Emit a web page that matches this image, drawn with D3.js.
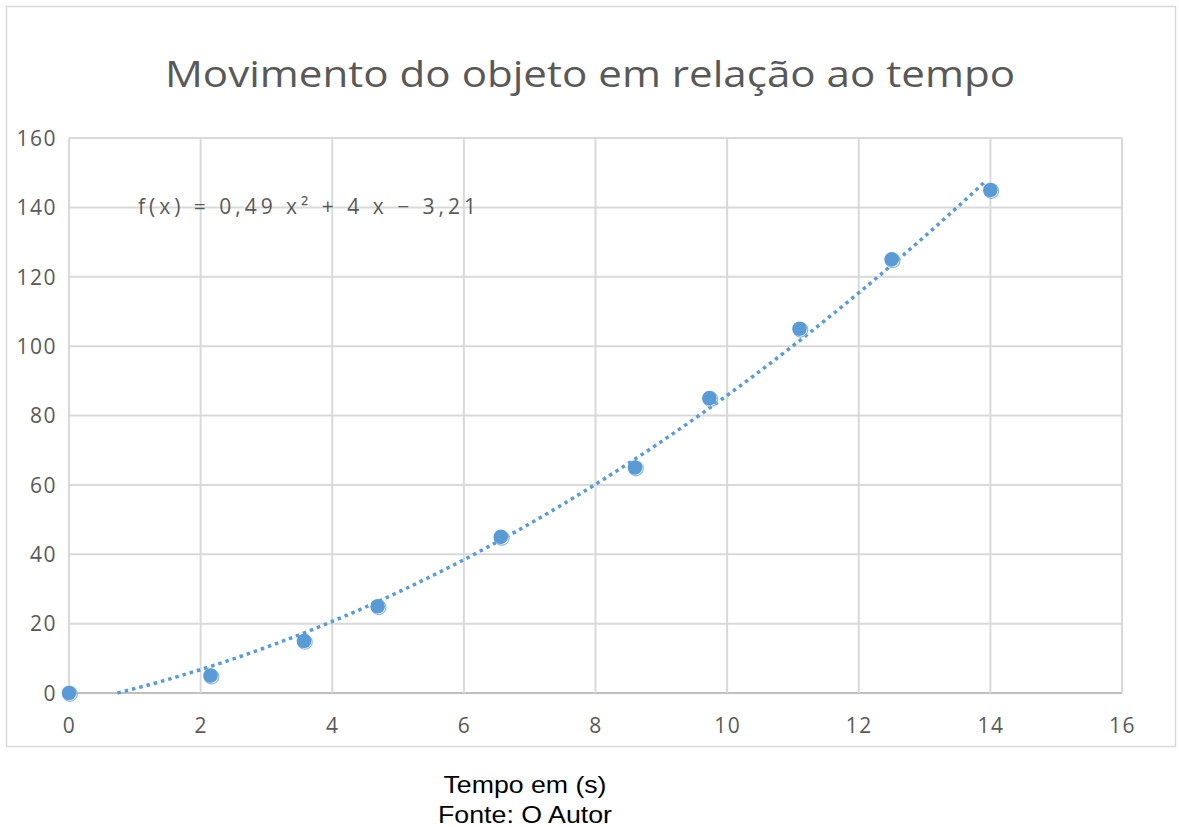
<!DOCTYPE html>
<html>
<head>
<meta charset="utf-8">
<script src="https://cdn.jsdelivr.net/npm/d3@7"></script>
<style>
  body { margin: 0; background: #fff; }
  svg { display: block; }
</style>
</head>
<body>
<svg id="chart" width="1179" height="827"></svg>
<script>
// dados
var tempo = [0, 2.15, 3.57, 4.69, 6.56, 8.6, 9.73, 11.1, 12.5, 14];
var posicao = [0, 5, 15, 25, 45, 65, 85, 105, 125, 145];
var xTicks = [0, 2, 4, 6, 8, 10, 12, 14, 16];
var yTicks = [0, 20, 40, 60, 80, 100, 120, 140, 160];
// coeficientes da linha de tendência (polinomial ordem 2)
var coef = [0.49, 4, -3.21];
var titulo = "Movimento do objeto em relação ao tempo";
var equacao = "f(x) = 0,49 x² + 4 x − 3,21";
var eixoX = "Tempo em (s)";
var fonte = "Fonte: O Autor";

var svg = d3.select("#chart");
var cor = "#5b9bd5";

var x = d3.scaleLinear().domain([0, 16]).range([69, 1122]);
var y = d3.scaleLinear().domain([0, 160]).range([693, 138]);

// moldura
svg.append("rect")
  .attr("x", 6.5).attr("y", 6.5)
  .attr("width", 1169).attr("height", 740)
  .attr("fill", "none").attr("stroke", "#d9d9d9").attr("stroke-width", 1.5);

// titulo
svg.append("text")
  .attr("x", 590).attr("y", 87)
  .attr("text-anchor", "middle")
  .attr("font-family", "Open Sans")
  .attr("font-size", 36)
  .attr("fill", "#595959")
  .attr("textLength", 850).attr("lengthAdjust", "spacingAndGlyphs")
  .text(titulo);

// grade
svg.append("g").selectAll("line")
  .data(yTicks)
  .enter()
  .append("line")
  .attr("x1", x(0)).attr("x2", x(16))
  .attr("y1", d => y(d)).attr("y2", d => y(d))
  .attr("stroke", d => d === 0 ? "#bfbfbf" : "#d9d9d9")
  .attr("stroke-width", 2);

svg.append("g").selectAll("line")
  .data(xTicks)
  .enter()
  .append("line")
  .attr("x1", d => x(d)).attr("x2", d => x(d))
  .attr("y1", y(0)).attr("y2", y(160))
  .attr("stroke", "#d9d9d9")
  .attr("stroke-width", 2);

// eixos (só rótulos)
var gx = svg.append("g")
  .attr("transform", "translate(0," + y(0) + ")")
  .call(d3.axisBottom(x).tickValues(xTicks).tickSize(0).tickPadding(25).tickFormat(d3.format("d")));
var gy = svg.append("g")
  .attr("transform", "translate(" + x(0) + ",0)")
  .call(d3.axisLeft(y).tickValues(yTicks).tickSize(0).tickPadding(12).tickFormat(d3.format("d")));
[gx, gy].forEach(function(g) {
  g.select(".domain").remove();
  g.selectAll("text")
    .attr("font-family", "Open Sans")
    .attr("font-size", 21)
    .attr("fill", "#595959")
    .style("letter-spacing", "1.5px");
});
gy.selectAll("text").attr("dy", "0.35em");

// linha de tendência
var x0 = (-coef[1] + Math.sqrt(coef[1] * coef[1] - 4 * coef[0] * coef[2])) / (2 * coef[0]);
var xs = d3.range(x0, 14.0001, 0.1);
var f = t => coef[0] * t * t + coef[1] * t + coef[2];
svg.append("path")
  .datum(xs)
  .attr("d", d3.line().x(d => x(d)).y(d => y(f(d))))
  .attr("fill", "none")
  .attr("stroke", cor)
  .attr("stroke-width", 3.5)
  .attr("stroke-dasharray", "3.5,4");

// pontos
var pts = tempo.map((t, i) => ({t: t, v: posicao[i]}));
svg.append("g").selectAll("circle")
  .data(pts)
  .enter()
  .append("circle")
  .attr("cx", d => x(d.t) + 1).attr("cy", d => y(d.v) + 1)
  .attr("r", 7.3)
  .attr("fill", "none")
  .attr("stroke", "#8db8e3")
  .attr("stroke-width", 1.2);
svg.append("g").selectAll("circle")
  .data(pts)
  .enter()
  .append("circle")
  .attr("cx", d => x(d.t)).attr("cy", d => y(d.v))
  .attr("r", 7.3)
  .attr("fill", cor);

// equação
svg.append("text")
  .attr("x", 138).attr("y", 214)
  .attr("font-family", "Open Sans")
  .attr("font-size", 21)
  .attr("fill", "#595959")
  .attr("textLength", 338).attr("lengthAdjust", "spacing")
  .text(equacao);

// texto abaixo
svg.append("text")
  .attr("x", 525).attr("y", 793)
  .attr("text-anchor", "middle")
  .attr("font-family", "Liberation Sans")
  .attr("font-size", 24)
  .attr("fill", "#000")
  .attr("textLength", 163).attr("lengthAdjust", "spacingAndGlyphs")
  .text(eixoX);
svg.append("text")
  .attr("x", 525).attr("y", 823)
  .attr("text-anchor", "middle")
  .attr("font-family", "Liberation Sans")
  .attr("font-size", 24)
  .attr("fill", "#000")
  .attr("textLength", 174).attr("lengthAdjust", "spacingAndGlyphs")
  .text(fonte);
</script>
</body>
</html>
